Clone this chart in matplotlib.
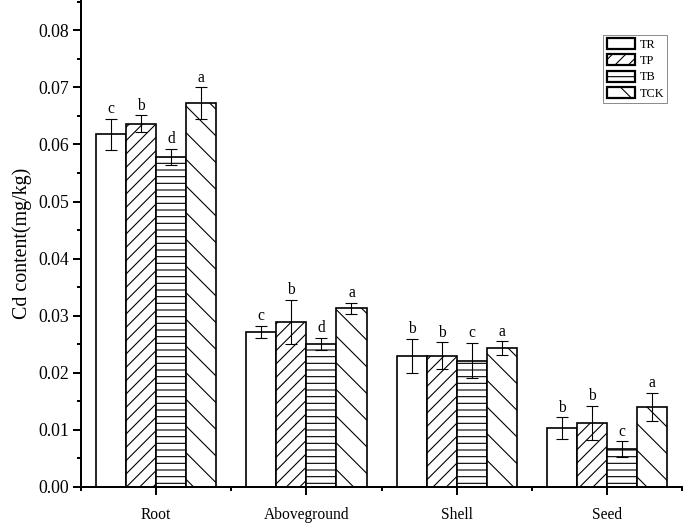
import matplotlib
matplotlib.use('Agg')
import matplotlib.pyplot as plt
import numpy as np
from matplotlib.ticker import MultipleLocator, FixedLocator

plt.rcParams['font.family'] = ['Liberation Serif', 'DejaVu Serif']
plt.rcParams['hatch.linewidth'] = 1.0

categories = ['Root', 'Aboveground', 'Shell', 'Seed']
series = ['TR', 'TP', 'TB', 'TCK']

TR = [0.0618, 0.0271, 0.0229, 0.0103]
TP = [0.0636, 0.0289, 0.0230, 0.0112]
TB = [0.0578, 0.0250, 0.0221, 0.0066]
TCK = [0.0672, 0.0313, 0.0243, 0.0140]

TR_err = [0.0027, 0.0011, 0.0030, 0.0019]
TP_err = [0.0015, 0.0039, 0.0023, 0.0030]
TB_err = [0.0014, 0.0011, 0.0031, 0.0014]
TCK_err = [0.0028, 0.0010, 0.0012, 0.0025]

TR_sig = ['c', 'c', 'b', 'b']
TP_sig = ['b', 'b', 'b', 'b']
TB_sig = ['d', 'd', 'c', 'c']
TCK_sig = ['a', 'a', 'a', 'a']

values = [TR, TP, TB, TCK]
errors = [TR_err, TP_err, TB_err, TCK_err]
letters = [TR_sig, TP_sig, TB_sig, TCK_sig]
hatches = ['', '//', '--', '\\']

dpi = 80
fig = plt.figure(figsize=(685 / dpi, 523 / dpi), dpi=dpi)
ax = fig.add_axes([0.118, 0.069, 0.878, 0.931])

x = np.arange(1, len(categories) + 1)
width = 0.2
for i, name in enumerate(series):
    pos = x + (i - 1.5) * width
    ax.bar(pos, values[i], width, facecolor='white', edgecolor='black',
           linewidth=1.5, hatch=hatches[i], label=name, zorder=2)
    ax.errorbar(pos, values[i], yerr=errors[i], fmt='none', ecolor='black',
                elinewidth=1.0, capsize=5, capthick=1.0, zorder=3)
    for p, v, e, s in zip(pos, values[i], errors[i], letters[i]):
        ax.text(p, v + e + 0.0003, s, ha='center', va='bottom', fontsize=14)

ax.set_xlim(0.5, 4.5)
ax.set_ylim(0, 0.0853)
ax.set_xticks(x)
ax.set_xticklabels(categories, fontsize=14)
ax.xaxis.set_minor_locator(FixedLocator([0.5, 1.5, 2.5, 3.5, 4.5]))
ax.yaxis.set_major_locator(FixedLocator(np.arange(0, 0.081, 0.01)))
ax.yaxis.set_minor_locator(MultipleLocator(0.005))
ax.set_yticklabels(['%.2f' % t for t in np.arange(0, 0.081, 0.01)], fontsize=16)
ax.set_ylabel('Cd content(mg/kg)', fontsize=18, labelpad=6)

ax.spines['top'].set_visible(False)
ax.spines['right'].set_visible(False)
ax.spines['left'].set_linewidth(1.8)
ax.spines['bottom'].set_linewidth(1.8)
ax.tick_params(which='major', direction='out', length=7, width=1.8)
ax.tick_params(which='minor', direction='out', length=4, width=1.8)
ax.tick_params(axis='x', pad=11)

leg = ax.legend(loc='upper left', bbox_to_anchor=(0.869, 0.928), fontsize=11,
                fancybox=False, edgecolor='gray', framealpha=1,
                handlelength=2.3, handleheight=1.0, labelspacing=0.3,
                borderpad=0.25, handletextpad=0.4, borderaxespad=0)
leg.get_frame().set_linewidth(0.8)
for h in leg.get_patches():
    h.set_linewidth(2.0)

fig.savefig('out.png', dpi=dpi)
